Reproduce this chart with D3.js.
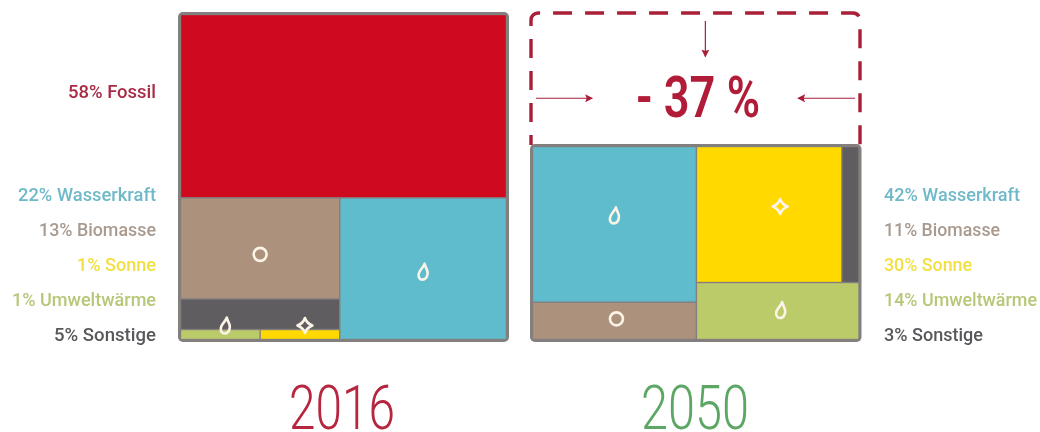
<!DOCTYPE html>
<html><head><meta charset="utf-8">
<script src="https://cdn.jsdelivr.net/npm/d3@7"></script>
<style>
html,body{margin:0;padding:0;background:#fff}
svg{display:block;filter:blur(.65px)}
text{font-family:"Roboto",sans-serif}
</style></head><body>
<svg id="c" width="1040" height="432"></svg>
<script>
// Stated shares (labels)
const categories = ["Fossil","Wasserkraft","Biomasse","Sonne","Umweltwärme","Sonstige"];
const shares2016 = [58,22,13,1,1,5];
const shares2050 = [null,42,11,30,14,3];
// Tile areas (percent of each panel)
const areas2016 = [56.4,22.3,15.2,0.75,0.75,4.6];
const areas2050 = [null,40.5,9.7,31.4,14.7,3.7];
const reduction = "- 37 %";
const years = ["2016","2050"];

const colors = {Fossil:"#cf0a1e",Wasserkraft:"#5fbccd",Biomasse:"#ac917c",Sonne:"#ffd900",Umweltwärme:"#bccb6a",Sonstige:"#5f5d5f"};
const labelColors = {Fossil:"#a92a45",Wasserkraft:"#6fb9c8",Biomasse:"#a89a8f",Sonne:"#f2e040",Umweltwärme:"#b5c878",Sonstige:"#58585c"};
const icons = {Wasserkraft:"drop",Biomasse:"ring",Sonne:"star",Umweltwärme:"drop"};

const svg = d3.select("#c");
const leaf = (areas,name)=>({name,value:areas[categories.indexOf(name)]});

const tree2016 = {dir:"v",children:[
  leaf(areas2016,"Fossil"),
  {dir:"h",children:[
    {dir:"v",children:[
      leaf(areas2016,"Biomasse"),
      {dir:"v",children:[
        leaf(areas2016,"Sonstige"),
        {dir:"h",children:[leaf(areas2016,"Umweltwärme"),leaf(areas2016,"Sonne")]}
      ]}
    ]},
    leaf(areas2016,"Wasserkraft")
  ]}
]};
const tree2050 = {dir:"h",children:[
  {dir:"v",children:[leaf(areas2050,"Wasserkraft"),leaf(areas2050,"Biomasse")]},
  {dir:"v",children:[
    {dir:"h",children:[leaf(areas2050,"Sonne"),leaf(areas2050,"Sonstige")]},
    leaf(areas2050,"Umweltwärme")
  ]}
]};
const tile = (n,x0,y0,x1,y1)=> (n.data.dir==="h"?d3.treemapDice:d3.treemapSlice)(n,x0,y0,x1,y1);

const iconPaths = {
  ring:"M6.5,0A6.5,6.5 0 1,1 -6.5,0A6.5,6.5 0 1,1 6.5,0Z",
  drop:"M1.5,-8C2,-4 5,-2 4.5,2C4,6 1.5,8 -1,8C-3,8 -5,6 -4.5,2.5C-4,-1.5 0,-3.5 1.5,-8Z",
  star:"M0,-7.5C1,-4.5 3.5,-1.5 7.5,0C3.5,1.5 1,4.5 0,7.5C-1,4.5 -3.5,1.5 -7.5,0C-3.5,-1.5 -1,-4.5 0,-7.5Z"
};
const iconNudge = {
  "2016":{Wasserkraft:[0,3],Biomasse:[0,6],Sonne:[5,-9],"Umweltwärme":[5,-9]},
  "2050":{Wasserkraft:[0,-9],Biomasse:[2,-2],Sonne:[11,-8],"Umweltwärme":[3,-1]}
};

function panel(tree,year,pxX,pxY){
  const x=d3.scaleLinear().domain([0,1]).range(pxX), y=d3.scaleLinear().domain([0,1]).range(pxY);
  const root=d3.hierarchy(tree).sum(d=>d.value||0);
  d3.treemap().tile(tile).size([1,1]).round(false)(root);
  const g=svg.append("g");
  g.append("rect").attr("x",x(0)-2.5).attr("y",y(0)-2.5).attr("width",x(1)-x(0)+5).attr("height",y(1)-y(0)+5)
    .attr("rx",5).attr("fill","#837f7e");
  const leaves=root.leaves();
  g.selectAll("rect.t").data(leaves).join("rect").attr("class","t")
    .attr("x",d=>x(d.x0)+.7).attr("y",d=>y(d.y0)+.7)
    .attr("width",d=>x(d.x1)-x(d.x0)-1.4).attr("height",d=>y(d.y1)-y(d.y0)-1.4)
    .attr("fill",d=>colors[d.data.name]);
  g.selectAll("path.i").data(leaves.filter(d=>icons[d.data.name])).join("path").attr("class","i")
    .attr("d",d=>iconPaths[icons[d.data.name]])
    .attr("transform",d=>{const n=iconNudge[year][d.data.name];
      return `translate(${(x(d.x0)+x(d.x1))/2+n[0]},${(y(d.y0)+y(d.y1))/2+n[1]})`;})
    .attr("fill","none").attr("stroke","#fbf3e6").attr("stroke-width",2.6).attr("stroke-linejoin","round");
}
panel(tree2016,"2016",[180.5,506.5],[14.5,339.5]);
panel(tree2050,"2050",[532.5,859],[146.5,339.5]);

// Legends
const rowY=d3.scalePoint().domain(["Wasserkraft","Biomasse","Sonne","Umweltwärme","Sonstige"]).range([201,341]);
const fossilY=98;
function legend(vals,xp,anchor,widths){
  categories.forEach((c,i)=>{
    if(vals[i]==null) return;
    svg.append("text").attr("x",xp).attr("y",c==="Fossil"?fossilY:rowY(c))
      .attr("text-anchor",anchor).attr("fill",labelColors[c]).attr("font-size",18).attr("font-weight",500)
      .attr("textLength",widths[i]).attr("lengthAdjust","spacingAndGlyphs")
      .text(`${vals[i]}% ${c}`);
  });
}
legend(shares2016,156,"end",[88,138,117,79,144,102]);
legend(shares2050,884,"start",[0,136,116,88,153,99]);

// Dashed frame
const fx=d3.scaleLinear().domain([0,1]).range([531,860]), fy=d3.scaleLinear().domain([0,1]).range([13,145]);
const fr=d3.path(), r=7;
fr.moveTo(fx(0),fy(1)); fr.lineTo(fx(0),fy(0)+r); fr.arcTo(fx(0),fy(0),fx(0)+r,fy(0),r);
fr.lineTo(fx(1)-r,fy(0)); fr.arcTo(fx(1),fy(0),fx(1),fy(0)+r,r); fr.lineTo(fx(1),fy(1));
svg.append("path").attr("d",fr.toString()).attr("fill","none").attr("stroke","#a91e38").attr("stroke-width",3.4)
  .attr("stroke-dasharray","19 13").attr("stroke-dashoffset",9);

// Arrows
const defs=svg.append("defs");
defs.append("marker").attr("id","h").attr("viewBox","0 0 8 8").attr("refX",7).attr("refY",4)
  .attr("markerWidth",8).attr("markerHeight",8).attr("markerUnits","userSpaceOnUse").attr("orient","auto")
  .append("path").attr("d","M0,0L8,4L0,8L1.5,4Z").attr("fill","#a91e38");
[[fx(.53),fy(.06),fx(.53),fy(.33)],[fx(.015),fy(.646),fx(.186),fy(.646)],[fx(.985),fy(.646),fx(.812),fy(.646)]]
 .forEach(a=>svg.append("line").attr("x1",a[0]).attr("y1",a[1]).attr("x2",a[2]).attr("y2",a[3])
   .attr("stroke","#a91e38").attr("stroke-width",1.2).attr("marker-end","url(#h)"));

svg.append("text").attr("x",636).attr("y",117).attr("fill","#b11c38").attr("font-size",58).attr("font-weight",600)
  .attr("textLength",124).attr("lengthAdjust","spacingAndGlyphs").text(reduction);

// Years
[[289,"#b7263f"],[641,"#5da765"]].forEach((d,i)=>{
  svg.append("text").attr("x",d[0]).attr("y",429).attr("fill",d[1]).attr("font-size",62)
    .attr("font-weight",300)
    .attr("textLength",i?108:106).attr("lengthAdjust","spacingAndGlyphs").text(years[i]);
});
</script></body></html>
